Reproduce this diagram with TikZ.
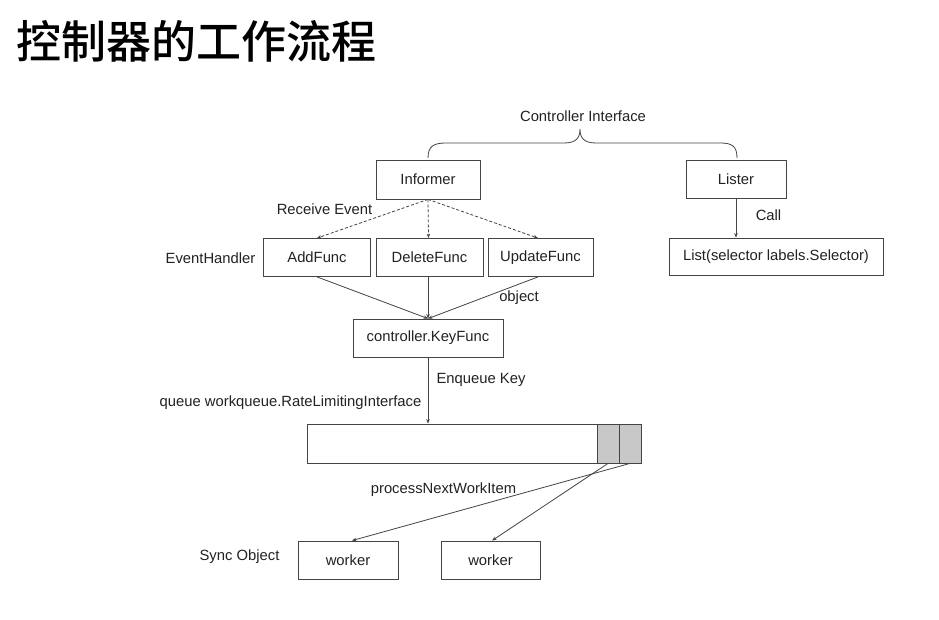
\documentclass[tikz,border=0pt]{standalone}
\usepackage{fontspec}
\setmainfont{Liberation Sans}
\newfontfamily\cjk{Noto Sans CJK SC}[BoldFont={Noto Sans CJK SC Medium}]
\usetikzlibrary{arrows.meta,calc}
\definecolor{linec}{HTML}{444444}
\definecolor{cellc}{HTML}{C8C8C8}
\definecolor{txtc}{HTML}{222222}
\begin{document}
\begin{tikzpicture}[x=1pt,y=-1pt,
  every node/.style={text=txtc,font=\fontsize{14.8}{17}\selectfont},
  boxn/.style={draw=linec,line width=0.8pt,inner sep=0pt,fill=white},
  lbl/.style={inner sep=0pt},
  conn/.style={draw=linec,line width=0.8pt,-{Stealth[length=4.5pt,width=3.5pt]}},
  dconn/.style={conn,dash pattern=on 3pt off 2pt},
  plain/.style={draw=linec,line width=0.8pt}]
\path[use as bounding box,fill=white] (0,0) rectangle (939,620);

% title
\node[lbl,anchor=west,font=\cjk\bfseries\fontsize{45}{50}\selectfont,text=black] (title) at (16,41) {控制器的工作流程};

% nodes
\node[boxn,minimum width=104pt,minimum height=39pt] (informer) at (428,179.5) {Informer};
\node[boxn,minimum width=100pt,minimum height=38pt] (lister) at (736,179) {Lister};
\node[boxn,minimum width=107pt,minimum height=38pt] (addf) at (317,257.5) {AddFunc};
\node[boxn,minimum width=107pt,minimum height=38pt] (delf) at (429.5,257.5) {DeleteFunc};
\node[boxn,minimum width=105pt,minimum height=38pt] (updf) at (540.5,257.5) {UpdateFunc};
\node[boxn,minimum width=214pt,minimum height=37pt] (list) at (776,256.5) {List(selector labels.Selector)};
\node[boxn,minimum width=150pt,minimum height=38pt] (key) at (428,338) {controller.KeyFunc};
\node[boxn,minimum width=334pt,minimum height=39pt] (queue) at (474,443.5) {};
\node[boxn,fill=cellc,minimum width=22pt,minimum height=39pt] (c1) at (608,443.5) {};
\node[boxn,fill=cellc,minimum width=22pt,minimum height=39pt] (c2) at (630,443.5) {};
\node[boxn,minimum width=100pt,minimum height=38pt] (w1) at (348,560) {worker};
\node[boxn,minimum width=99pt,minimum height=38pt] (w2) at (490.5,560) {worker};

% labels
\node[lbl] (ci) at (583,116) {Controller Interface};
\node[lbl] (recv) at (324.5,209) {Receive Event};
\node[lbl] (eh) at (210.5,258) {EventHandler};
\node[lbl] (obj) at (519,298) {object};
\node[lbl] (call) at (768.5,215) {Call};
\node[lbl] (enq) at (481,380) {Enqueue Key};
\node[lbl] (qlbl) at (290.5,403) {queue workqueue.RateLimitingInterface};
\node[lbl] (pnw) at (443.5,490) {processNextWorkItem};
\node[lbl] (sync) at (239.5,557) {Sync Object};

% brace
\draw[plain] (428,158) .. controls (428,146) and (434,143) .. (446,143)
  -- (564,143) .. controls (576,143) and (580,138) .. (580,129)
  .. controls (580,138) and (584,143) .. (596,143)
  -- (720,143) .. controls (732,143) and (737,146) .. (737,158);

% connectors
\draw[dconn] (informer.south) -- (addf.north);
\draw[dconn] (informer.south) -- ([xshift=-1pt]delf.north);
\draw[dconn] (informer.south) -- ([xshift=-2.5pt]updf.north);
\draw[conn] (addf.south) -- (key.north);
\draw[conn] ([xshift=-1.5pt]delf.south) -- (key.north);
\draw[conn] ([xshift=-2.5pt]updf.south) -- (key.north);
\draw[conn] (lister.south) -- (lister.south |- list.north);
\draw[conn] (key.south) -- (key.south |- queue.north);
\draw[conn] (c1.south) -- ([xshift=1.5pt]w2.north);
\draw[conn] (c2.south) -- ([xshift=4pt]w1.north);
\end{tikzpicture}
\end{document}
